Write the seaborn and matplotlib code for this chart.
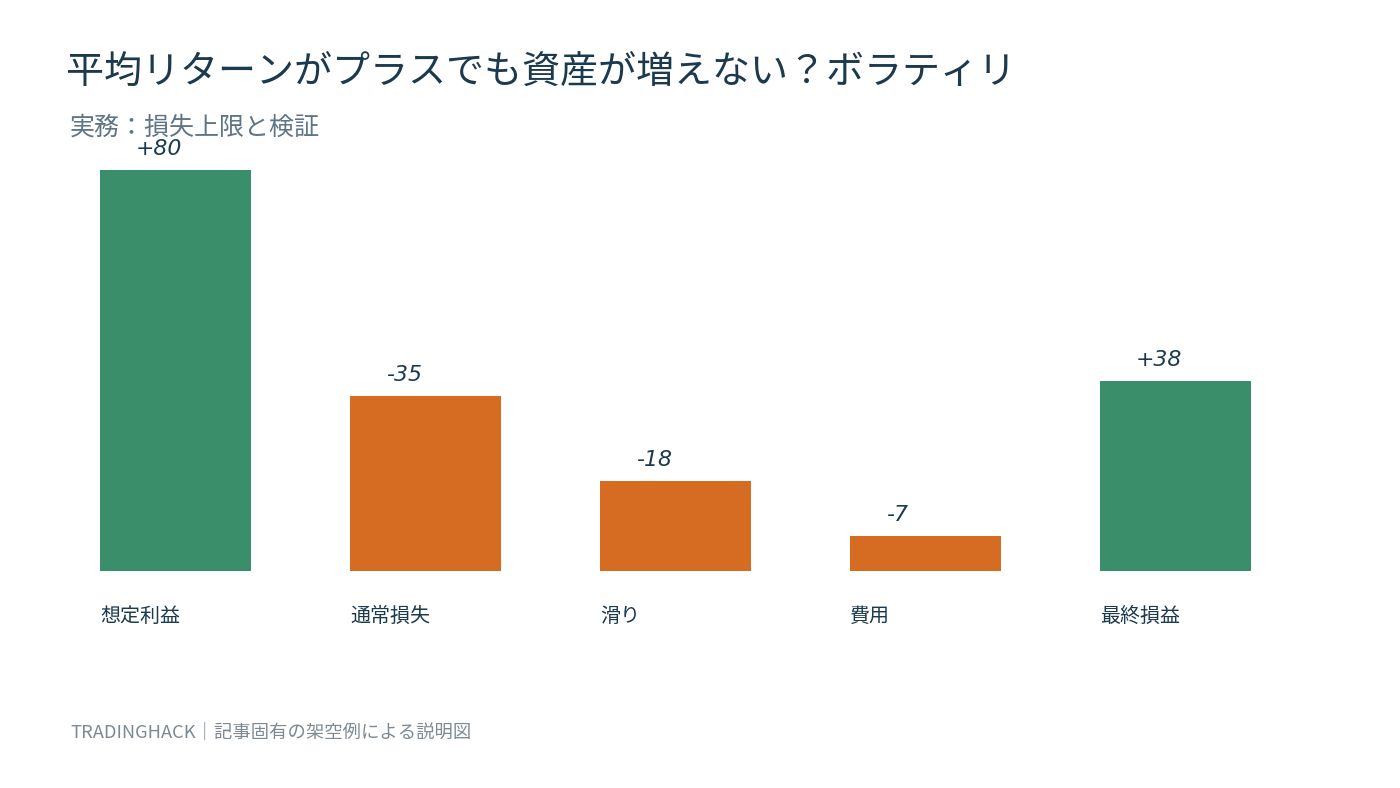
import matplotlib
matplotlib.use("Agg")
import matplotlib.pyplot as plt
import matplotlib.transforms as mtransforms
import seaborn as sns
import pandas as pd

# data
categories = ["想定利益", "通常損失", "滑り", "費用", "最終損益"]
values = [80, -35, -18, -7, 38]
value_labels = ["+80", "-35", "-18", "-7", "+38"]
kinds = ["gain", "loss", "loss", "loss", "gain"]

title = "平均リターンがプラスでも資産が増えない？ボラティリ"
subtitle = "実務：損失上限と検証"
footer = "TRADINGHACK｜記事固有の架空例による説明図"

GREEN = "#3a8f6a"
ORANGE = "#d66b22"
NAVY = "#1c3a4e"
SUB = "#5f7585"
FOOT = "#7d8a93"

sns.set_theme(style="white")
plt.rcParams["font.family"] = ["Noto Sans CJK JP", "DejaVu Sans"]

df = pd.DataFrame({"cat": categories, "size": [abs(v) for v in values], "kind": kinds})

fig = plt.figure(figsize=(14, 7.88), dpi=100)
W, H = 1400, 788
# axes: left edge of first bar at 100px, right edge of last at 1251px, baseline at 571px, top (80) at 170px
ax = fig.add_axes([100 / W, 1 - 571 / H, 1151 / W, 401 / H])

bw = 151 / 250
sns.barplot(data=df, x="cat", y="size", hue="kind",
            palette={"gain": GREEN, "loss": ORANGE},
            width=bw, dodge=False, legend=False, saturation=1, ax=ax)
for p in ax.patches:
    p.set_linewidth(0)

ax.set_xlim(-bw / 2, len(categories) - 1 + bw / 2)
ax.set_ylim(0, 80)
ax.set_xlabel("")
ax.set_ylabel("")
ax.set_xticks([])
ax.set_yticks([])
sns.despine(ax=ax, left=True, bottom=True)

trans_lbl = mtransforms.blended_transform_factory(ax.transData, ax.transAxes)
for i, (cat, v, lab) in enumerate(zip(categories, values, value_labels)):
    left = i - bw / 2
    ax.text(left, -45 / 401, cat, transform=trans_lbl, ha="left", va="center",
            fontsize=14.4, color=NAVY)
    ax.annotate(lab, xy=(left + 36 / 250, abs(v)), xytext=(0, 10.5),
                textcoords="offset points", ha="left", va="baseline",
                fontsize=15.8, style="italic", color=NAVY,
                family=["DejaVu Sans"], annotation_clip=False)

fig.text(66 / W, 1 - 72 / H, title, fontsize=27.4, color=NAVY, ha="left", va="center")
fig.text(70 / W, 1 - 128 / H, subtitle, fontsize=18, color=SUB, ha="left", va="center")
fig.text(70 / W, 1 - 733 / H, footer, fontsize=13.2, color=FOOT, ha="left", va="center")

fig.savefig("out.png", dpi=100, facecolor="white")
